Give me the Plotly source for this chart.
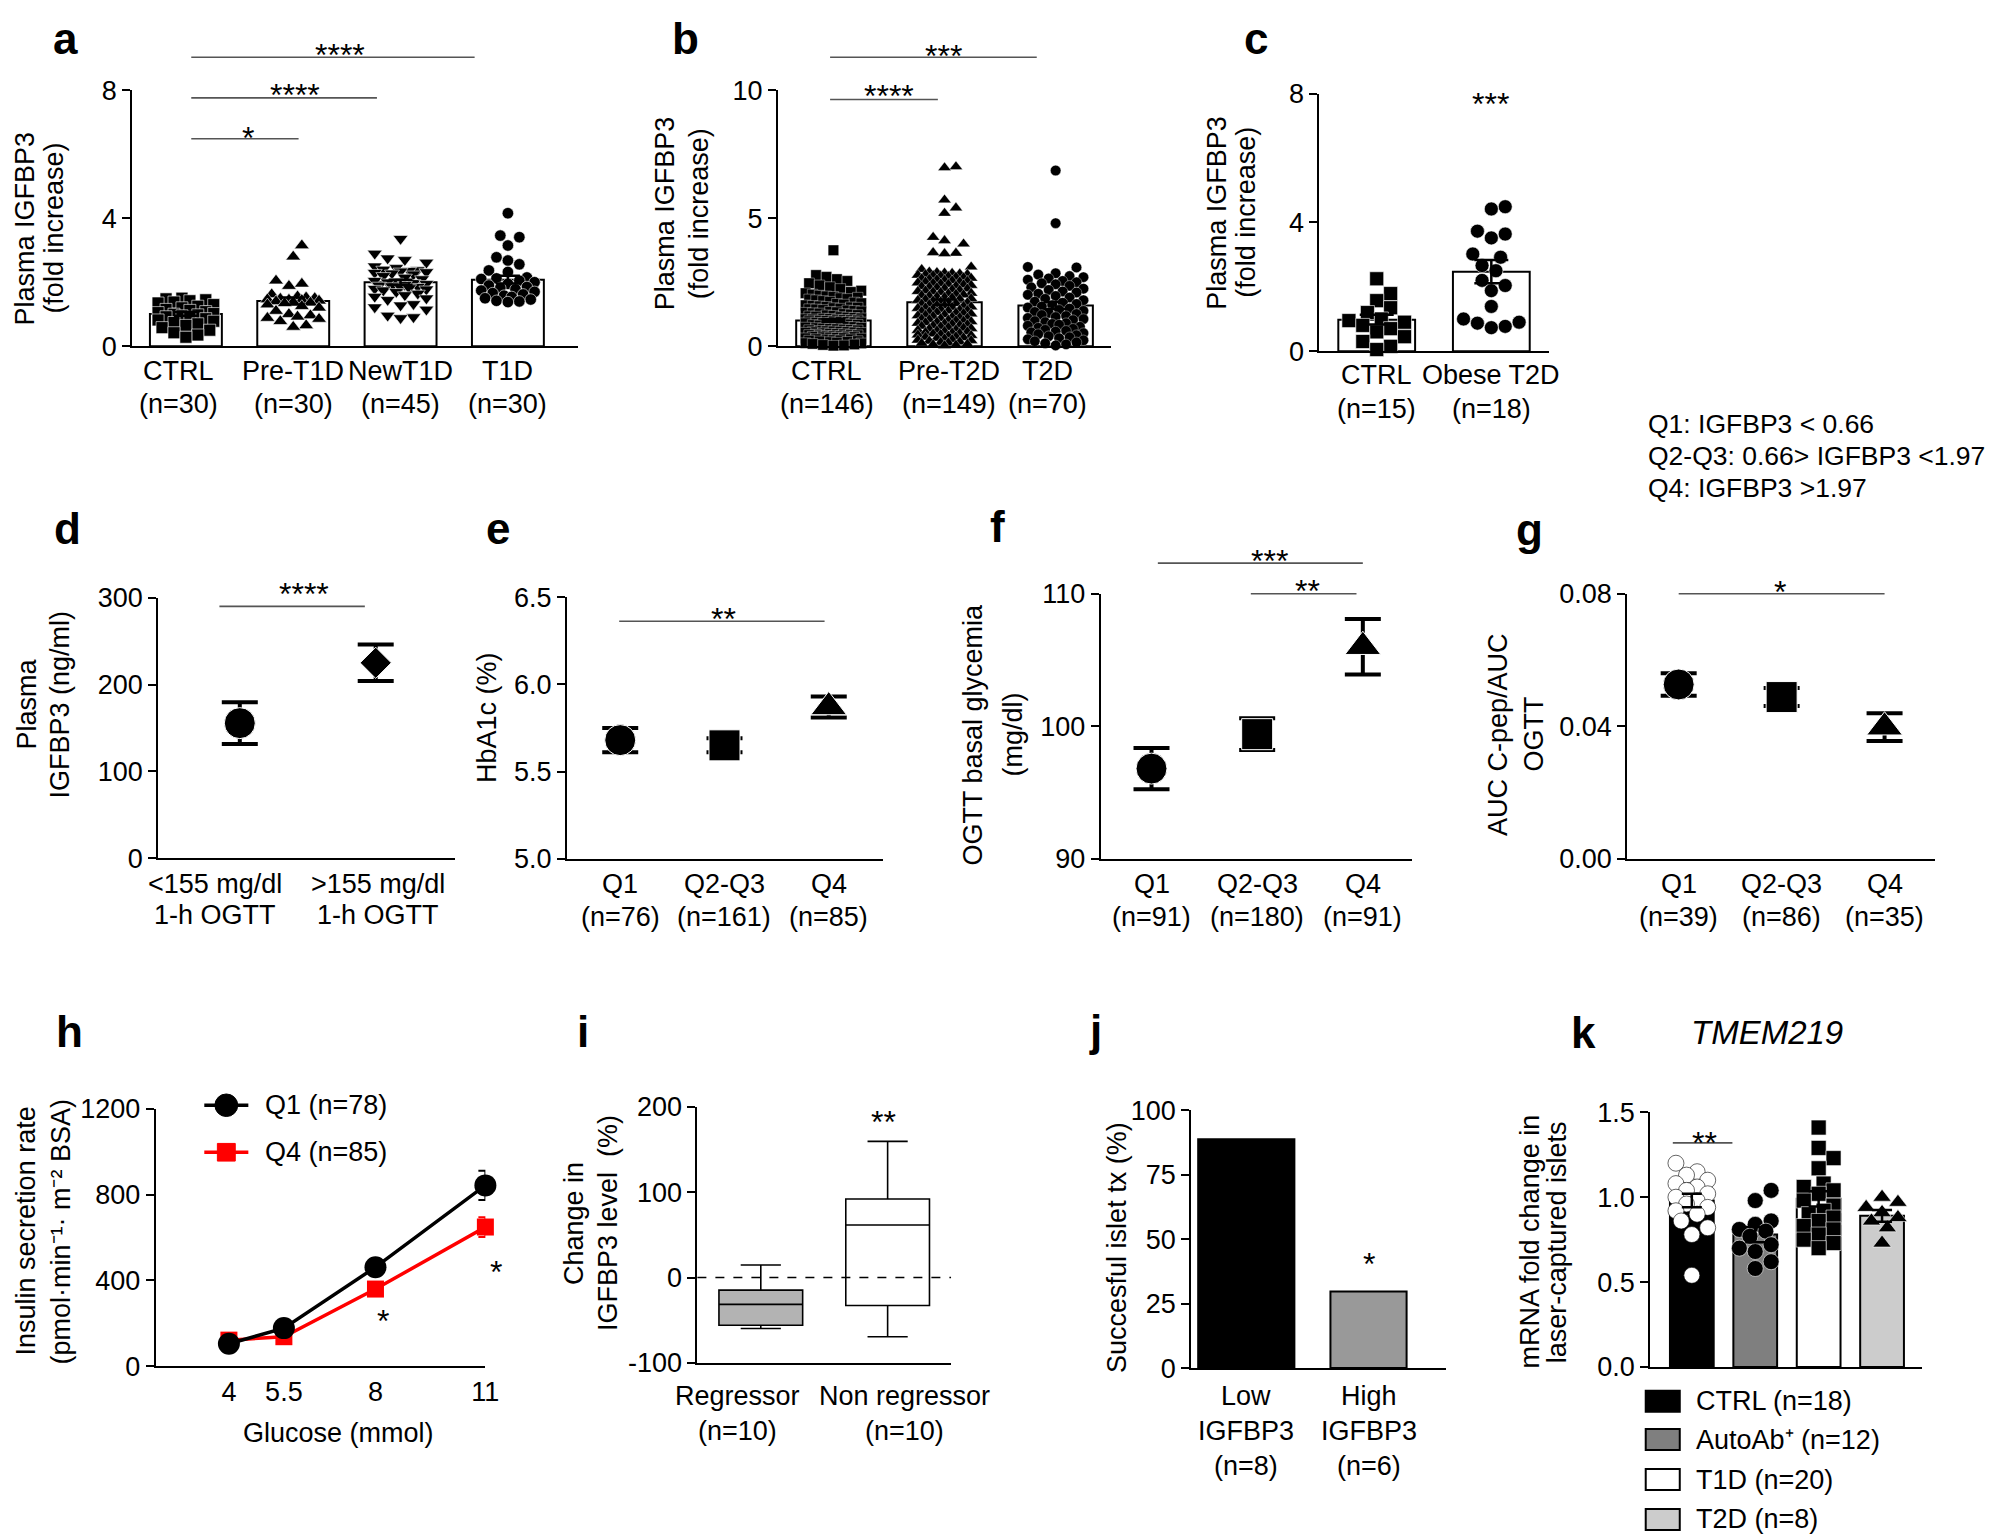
import plotly.graph_objects as go

W, H = 1996, 1536
SANS = "Liberation Sans, Arial, sans-serif"
FS = 27      # tick / category / legend text
FT = 27      # rotated axis titles
SIG = "#555555"

# ---------------- data ----------------
# a  plasma IGFBP3, T1D cohort
a_groups = ["CTRL", "Pre-T1D", "NewT1D", "T1D"]
a_n = ["(n=30)", "(n=30)", "(n=45)", "(n=30)"]
a_mean = [1.01, 1.41, 2.00, 2.08]
a_sem = [0.06, 0.11, 0.08, 0.12]
a_ctrl = [1.50, 1.48, 1.45, 1.42, 1.38, 1.35, 1.30, 1.25, 1.20, 1.15,
          1.12, 1.08, 1.05, 1.02, 1.00, 0.98, 0.95, 0.92, 0.90, 0.86,
          0.82, 0.78, 0.74, 0.70, 0.65, 0.58, 0.50, 0.42, 0.35, 0.28]
a_pre = [3.15, 2.80, 2.05, 1.95, 1.88, 1.62, 1.55, 1.52, 1.50, 1.48,
         1.46, 1.45, 1.44, 1.42, 1.40, 1.38, 1.36, 1.34, 1.30, 1.25,
         1.20, 1.10, 1.00, 0.96, 0.92, 0.88, 0.85, 0.78, 0.65, 0.60]
a_new = [3.36, 2.90, 2.75, 2.70, 2.62, 2.50, 2.45, 2.40, 2.38, 2.36,
         2.34, 2.32, 2.30, 2.28, 2.25, 2.20, 2.15, 2.10, 2.05, 2.02,
         2.00, 1.98, 1.95, 1.92, 1.90, 1.88, 1.86, 1.84, 1.82, 1.80,
         1.78, 1.75, 1.70, 1.65, 1.60, 1.55, 1.50, 1.45, 1.32, 1.28,
         1.22, 1.15, 0.96, 0.91, 0.88]
a_t1d = [4.16, 3.46, 3.41, 3.15, 2.78, 2.68, 2.56, 2.37, 2.32, 2.15,
         2.12, 2.10, 2.05, 2.00, 1.95, 1.90, 1.85, 1.82, 1.78, 1.74,
         1.70, 1.66, 1.62, 1.58, 1.54, 1.50, 1.46, 1.42, 1.40, 1.38]
a_sig_lines = [(0.05, 2.69, 9.04), (0.05, 1.78, 7.77), (0.05, 1.05, 6.49)]
a_sig_text = [(1.44, 9.32, "****"), (1.02, 8.09, "****"), (0.58, 6.73, "*")]

# b  plasma IGFBP3, T2D cohort
b_groups = ["CTRL", "Pre-T2D", "T2D"]
b_n = ["(n=146)", "(n=149)", "(n=70)"]
b_mean = [1.00, 1.72, 1.59]
b_sem = [0.05, 0.10, 0.14]
b_ctrl = [3.75, 2.78, 2.71, 2.62, 2.55,
          2.46, 2.38, 2.31, 2.24, 2.17, 2.12, 2.07, 2.02,
          1.98, 1.95, 1.93, 1.90, 1.88, 1.85, 1.83, 1.80, 1.77, 1.74,
          1.71, 1.68, 1.66, 1.63, 1.60, 1.58, 1.56, 1.54, 1.52, 1.51,
          1.49, 1.47, 1.45, 1.44, 1.42, 1.40, 1.38, 1.36, 1.35, 1.33,
          1.31, 1.29, 1.28, 1.26, 1.24, 1.22, 1.21, 1.19, 1.17, 1.16,
          1.14, 1.12, 1.11, 1.09, 1.08, 1.07, 1.06, 1.05, 1.04, 1.03,
          1.02, 1.01, 1.00,
          0.99, 0.98, 0.97, 0.96, 0.95, 0.94, 0.93, 0.92, 0.91, 0.90,
          0.89, 0.88, 0.86, 0.85, 0.84, 0.83, 0.81, 0.80, 0.79, 0.77,
          0.76, 0.75, 0.73, 0.72, 0.71, 0.69, 0.68, 0.67, 0.65, 0.64,
          0.63, 0.62, 0.60, 0.59, 0.58, 0.57, 0.56, 0.55, 0.54, 0.53,
          0.52, 0.51,
          0.49, 0.48, 0.47, 0.46, 0.45, 0.44, 0.43, 0.42, 0.41, 0.40,
          0.39, 0.38, 0.37, 0.36, 0.35, 0.34, 0.33, 0.32, 0.31, 0.30,
          0.28, 0.27, 0.26, 0.24, 0.23, 0.22, 0.20, 0.19, 0.17, 0.16,
          0.14, 0.12, 0.11, 0.09, 0.07, 0.05, 0.03, 0.02]
b_pre = [7.02, 6.98, 5.72, 5.41, 5.20, 4.26, 4.13, 4.00, 3.66, 3.64, 3.62, 3.10, 3.00,
         2.90, 2.88, 2.86, 2.85, 2.83, 2.81, 2.80, 2.78, 2.76, 2.74, 2.72,
         2.70, 2.68, 2.66, 2.64, 2.62, 2.60, 2.58, 2.56, 2.54, 2.52, 2.51,
         2.48, 2.46, 2.44, 2.42, 2.40, 2.38, 2.35, 2.33, 2.31, 2.29, 2.26,
         2.24, 2.21, 2.19, 2.16, 2.14, 2.12, 2.10, 2.07, 2.05, 2.03, 2.01,
         1.98, 1.96, 1.93, 1.91, 1.89, 1.86, 1.84, 1.82, 1.79, 1.77, 1.74,
         1.72, 1.70, 1.67, 1.65, 1.63, 1.60, 1.58, 1.56, 1.54, 1.52, 1.50,
         1.48, 1.46, 1.44, 1.42, 1.40, 1.38, 1.36, 1.34, 1.32, 1.30, 1.28,
         1.26, 1.23, 1.21, 1.19, 1.17, 1.14, 1.12, 1.10, 1.08, 1.06, 1.04,
         1.02, 1.00,
         0.98, 0.96, 0.94, 0.92, 0.90, 0.88, 0.86, 0.84, 0.82, 0.80, 0.78,
         0.76, 0.73, 0.71, 0.69, 0.67, 0.64, 0.62, 0.60, 0.58, 0.56, 0.54,
         0.52, 0.50,
         0.48, 0.46, 0.44, 0.42, 0.40, 0.37, 0.35, 0.33, 0.31, 0.29, 0.26,
         0.24, 0.22, 0.20, 0.17, 0.15, 0.13, 0.11, 0.08, 0.06, 0.04, 0.02]
b_t2d = [6.87, 4.81, 3.10, 3.08,
         2.85, 2.80, 2.74, 2.70, 2.65, 2.60, 2.55, 2.50, 2.46, 2.42,
         2.36, 2.30, 2.25, 2.20, 2.14, 2.10, 2.05, 2.01,
         1.96, 1.90, 1.85, 1.80, 1.74, 1.70, 1.65, 1.60, 1.55, 1.51,
         1.47, 1.42, 1.38, 1.34, 1.30, 1.26, 1.22, 1.18, 1.14, 1.10, 1.06, 1.02,
         0.98, 0.94, 0.90, 0.87, 0.84, 0.80, 0.76, 0.72, 0.68, 0.64, 0.60,
         0.57, 0.54, 0.51,
         0.47, 0.43, 0.39, 0.35, 0.31, 0.27, 0.23, 0.19, 0.15, 0.11, 0.07, 0.03]
b_sig_lines = [(-0.03, 1.83, 11.30), (-0.03, 0.94, 9.65)]
b_sig_text = [(0.99, 11.63, "***"), (0.50, 10.07, "****")]

# c  obese T2D
c_groups = ["CTRL", "Obese T2D"]
c_n = ["(n=15)", "(n=18)"]
c_mean = [0.98, 2.47]
c_sem = [0.15, 0.36]
c_ctrl = [2.25, 1.79, 1.57, 1.35, 1.20, 1.00, 0.95, 0.90, 0.80, 0.70,
          0.60, 0.45, 0.30, 0.15, 0.05]
c_t2d = [4.49, 4.42, 3.73, 3.64, 3.52, 3.02, 2.92, 2.66, 2.50, 2.20,
         2.04, 1.88, 1.39, 1.00, 0.90, 0.87, 0.77, 0.73]
c_sig_text = [(0.99, 7.90, "***")]
q_notes = ["Q1: IGFBP3 < 0.66", "Q2-Q3: 0.66> IGFBP3 <1.97", "Q4: IGFBP3 >1.97"]

# d
d_groups = ["<155 mg/dl", ">155 mg/dl"]
d_sub = ["1-h OGTT", "1-h OGTT"]
d_mean = [155.5, 225.0]
d_err = [24.0, 21.0]
d_sig_lines = [(-0.15, 0.92, 290)]
d_sig_text = [(0.47, 312, "****")]

# e, f, g  (quartiles)
q_groups = ["Q1", "Q2-Q3", "Q4"]
e_n = ["(n=76)", "(n=161)", "(n=85)"]
e_mean = [5.68, 5.65, 5.87]
e_err = [0.07, 0.04, 0.06]
e_sig_lines = [(-0.01, 1.96, 6.362)]
e_sig_text = [(0.99, 6.414, "**")]
f_n = ["(n=91)", "(n=180)", "(n=91)"]
f_mean = [96.8, 99.4, 106.0]
f_err = [1.55, 1.2, 2.1]
f_sig_lines = [(0.06, 2.0, 112.31), (0.94, 1.94, 110.0)]
f_sig_text = [(1.12, 112.97, "***"), (1.48, 110.7, "**")]
g_n = ["(n=39)", "(n=86)", "(n=35)"]
g_mean = [0.0526, 0.0488, 0.0397]
g_err = [0.0034, 0.0027, 0.0042]
g_sig_lines = [(0.0, 2.0, 0.080)]
g_sig_text = [(0.98, 0.0825, "*")]

# h  insulin secretion
h_glucose = [4, 5.5, 8, 11]
h_q1 = [105, 178, 462, 843]
h_q1_sem = [14, 12, 33, 68]
h_q4 = [122, 138, 360, 649]
h_q4_sem = [16, 12, 16, 46]
h_names = ["Q1 (n=78)", "Q4 (n=85)"]
h_sig_text = [(8.21, 243, "*"), (11.29, 470, "*")]

# i  box plot
i_groups = ["Regressor", "Non regressor"]
i_n = ["(n=10)", "(n=10)"]
i_min = [-59.6, -69.4]
i_q1 = [-55.9, -32.7]
i_med = [-31.4, 61.6]
i_q3 = [-14.7, 92.2]
i_max = [14.7, 159.6]
i_sig_text = [(0.97, 190, "**")]

# j  islet transplant
j_groups = ["Low", "High"]
j_sub = ["IGFBP3", "IGFBP3"]
j_n = ["(n=8)", "(n=6)"]
j_vals = [88.8, 29.7]
j_sig_text = [(1.0, 43.2, "*")]

# k  TMEM219
k_groups = ["CTRL", "AutoAb\u207a", "T1D", "T2D"]
k_n = ["(n=18)", "(n=12)", "(n=20)", "(n=8)"]
k_mean = [0.98, 0.78, 0.99, 0.89]
k_sem = [0.04, 0.045, 0.045, 0.035]
k_ctrl = [1.20, 1.15, 1.13, 1.10, 1.08, 1.06, 1.04, 1.02, 1.00, 0.98,
          0.96, 0.94, 0.92, 0.90, 0.86, 0.82, 0.78, 0.54]
k_aab = [1.04, 0.98, 0.86, 0.84, 0.81, 0.80, 0.77, 0.72, 0.70, 0.68, 0.62, 0.58]
k_t1d = [1.41, 1.29, 1.23, 1.17, 1.08, 1.06, 1.04, 1.02, 0.98, 0.95,
         0.92, 0.90, 0.88, 0.86, 0.83, 0.81, 0.78, 0.75, 0.73, 0.70]
k_t2d = [1.00, 0.97, 0.94, 0.91, 0.88, 0.86, 0.82, 0.73]
k_sig_lines = [(-0.30, 0.64, 1.32)]
k_sig_text = [(0.20, 1.36, "**")]

# y tick labels
yticks = {1: [0, 4, 8], 2: [0, 5, 10], 3: [0, 4, 8], 4: [0, 100, 200, 300],
          5: [5.0, 5.5, 6.0, 6.5], 6: [90, 100, 110], 7: [0, 0.04, 0.08],
          8: [0, 400, 800, 1200], 9: [-100, 0, 100, 200], 10: [0, 25, 50, 75, 100],
          11: [0, 0.5, 1.0, 1.5]}
yticktext = {5: ["5.0", "5.5", "6.0", "6.5"], 7: ["0.00", "0.04", "0.08"],
             11: ["0.0", "0.5", "1.0", "1.5"]}

# ---------------- layout geometry ----------------
# positions below are measured on the reference picture; the page adds a small
# margin around the figure, so map them back into figure pixels
SX, OX = 0.992, 7.9
SY, OY = 0.9806, 22.5


def gx(x):
    return (x - OX) / SX


def gy(y):
    return (y - OY) / SY


def pp(x, y):
    return gx(x) / W, 1 - gy(y) / H


frames_ref = {1: (132, 577, 90, 345.7), 2: (777, 1110, 90, 345.7), 3: (1318, 1547, 93.3, 350.7),
              4: (158, 454, 597.3, 857.7), 5: (566.4, 882, 596.7, 858.3),
              6: (1099.6, 1411, 593.3, 858.3), 7: (1625.5, 1933, 593.3, 858.3),
              8: (155.4, 484.8, 1108.4, 1366), 9: (696.6, 950, 1106.6, 1362.6),
              10: (1190, 1444, 1110, 1367.8), 11: (1648.5, 1920, 1111.9, 1366.7)}
frames = {i: (gx(L), gx(R), gy(T), gy(B)) for i, (L, R, T, B) in frames_ref.items()}
xranges = {1: [-0.5, 3.65], 2: [-0.5, 2.5], 3: [-0.5, 1.5], 4: [-0.6, 1.58],
           5: [-0.51, 2.52], 6: [-0.48, 2.47], 7: [-0.5, 2.49], 8: [2, 11],
           9: [-0.5, 1.5], 10: [-0.45, 1.63], 11: [-0.656, 3.63]}
yranges = {1: [0, 8], 2: [0, 10], 3: [0, 8], 4: [0, 300], 5: [5.0, 6.5], 6: [90, 110],
           7: [0, 0.08], 8: [0, 1200], 9: [-100, 200], 10: [0, 100], 11: [0, 1.5]}

fig = go.Figure()


def axn(i):
    return ("x", "y") if i == 1 else (f"x{i}", f"y{i}")


def scale(i):
    L, R, T, B = frames[i]
    xr, yr = xranges[i], yranges[i]
    return (R - L) / (xr[1] - xr[0]), (B - T) / (yr[1] - yr[0])


def domx(i, v):
    r = xranges[i]
    return (v - r[0]) / (r[1] - r[0])


def domy(i, v):
    r = yranges[i]
    return (v - r[0]) / (r[1] - r[0])


def swarm(vals, center, size, ppx, ppy, half):
    # simple beeswarm: place points in ascending order at the nearest free offset
    order = sorted(range(len(vals)), key=lambda n: vals[n])
    step = size / 3.0
    cands = [0.0]
    k = 1
    while k * step <= half:
        cands += [k * step, -k * step]
        k += 1
    placed, out = [], [0.0] * len(vals)
    for n in order:
        yp = vals[n] * ppy
        best_c, best_d = 0.0, -1.0
        for c in cands:
            d = min([((c - xq) ** 2 + (yp - yq) ** 2) ** 0.5 for xq, yq in placed] or [1e9])
            if d >= size:
                best_c = c
                break
            if d > best_d:
                best_c, best_d = c, d
        placed.append((best_c, yp))
        out[n] = center + best_c / ppx
    return out


def txt(x, y, text, size=FS, family=SANS, xref="paper", yref="paper",
        xanchor="center", yanchor="middle", **kw):
    fig.add_annotation(x=x, y=y, xref=xref, yref=yref, text=text, showarrow=False,
                       xanchor=xanchor, yanchor=yanchor,
                       font=dict(family=family, size=size, color="black"), **kw)


def sig(i, lines, stars):
    xa, ya = axn(i)
    for x0, x1, y in lines:
        fig.add_shape(type="line", xref=f"{xa} domain", yref=f"{ya} domain",
                      x0=domx(i, x0), x1=domx(i, x1), y0=domy(i, y), y1=domy(i, y),
                      line=dict(color=SIG, width=1.6))
    for x, y, s in stars:
        txt(domx(i, x), domy(i, y), s, size=32, xref=f"{xa} domain", yref=f"{ya} domain",
            yshift=-7)


def cat_labels(i, rows, ys, xs=None):
    xa, _ = axn(i)
    for row, yy in zip(rows, ys):
        for k, t in enumerate(row):
            txt(k if xs is None else xs[k], pp(0, yy)[1], t, xref=xa)


def column_panel(i, means, sems, pts, symbols, sizes, width, bar_colors, pt_colors,
                 pt_lines, half, cap, edge=0.6):
    xa, ya = axn(i)
    xs = list(range(len(means)))
    fig.add_trace(go.Bar(x=xs, y=means, width=width, xaxis=xa, yaxis=ya,
                         marker=dict(color=bar_colors, line=dict(color="black", width=2))))
    ppx, ppy = scale(i)
    for k, vals in enumerate(pts):
        fig.add_trace(go.Scatter(
            x=swarm(vals, k, sizes[k], ppx, ppy, half), y=vals, mode="markers",
            xaxis=xa, yaxis=ya, cliponaxis=False, hoverinfo="skip",
            marker=dict(symbol=symbols[k], size=sizes[k], color=pt_colors[k], opacity=1,
                        line=dict(color=pt_lines[k], width=edge))))
    fig.add_trace(go.Scatter(x=xs, y=means, mode="markers", xaxis=xa, yaxis=ya,
                             marker=dict(size=1, color="rgba(0,0,0,0)"),
                             error_y=dict(type="data", array=sems, color="black",
                                          thickness=2.5, width=cap)))


def mean_panel(i, means, errs, symbols, sizes):
    xa, ya = axn(i)
    fig.add_trace(go.Scatter(x=list(range(len(means))), y=means, mode="markers",
                             xaxis=xa, yaxis=ya, cliponaxis=False,
                             marker=dict(symbol=symbols, size=sizes, color="black", opacity=1),
                             error_y=dict(type="data", array=errs, color="black",
                                          thickness=4, width=18)))


# ---------------- axes ----------------
axes = {}
for i, (L, R, T, B) in frames.items():
    xa, ya = axn(i)
    xk = "xaxis" if i == 1 else f"xaxis{i}"
    yk = "yaxis" if i == 1 else f"yaxis{i}"
    axes[xk] = dict(domain=[L / W, R / W], range=xranges[i], anchor=ya, showline=True,
                    linecolor="black", linewidth=2, ticks="", showticklabels=False,
                    showgrid=False, zeroline=False, fixedrange=True)
    axes[yk] = dict(domain=[1 - B / H, 1 - T / H], range=yranges[i], anchor=xa,
                    showline=True, linecolor="black", linewidth=2, ticks="outside",
                    ticklen=8, tickwidth=2, tickcolor="black", tickvals=yticks[i],
                    ticktext=yticktext.get(i, [str(v) for v in yticks[i]]),
                    tickfont=dict(family=SANS, size=FS, color="black"),
                    showgrid=False, zeroline=False, fixedrange=True)
axes["xaxis8"].update(showticklabels=True, tickvals=h_glucose,
                      ticktext=[str(v) for v in h_glucose],
                      tickfont=dict(family=SANS, size=FS, color="black"))
fig.update_layout(**axes)

# ---------------- panels ----------------
column_panel(1, a_mean, a_sem, [a_ctrl, a_pre, a_new, a_t1d],
             ["square", "triangle-up", "triangle-down", "circle"], [12, 13, 13, 11.5],
             0.67, "white", ["black"] * 4, ["white"] * 4, 30, 12)
sig(1, a_sig_lines, a_sig_text)
cat_labels(1, [a_groups, a_n], [371, 404], [-0.07, 1, 2, 3])

column_panel(2, b_mean, b_sem, [b_ctrl, b_pre, b_t2d], ["square", "triangle-up", "circle"],
             [10.5, 11.5, 10.5], 0.67, "white", ["black"] * 3, ["white"] * 3, 30, 12,
             edge=0.35)
sig(2, b_sig_lines, b_sig_text)
cat_labels(2, [b_groups, b_n], [371, 404], [-0.06, 1.04, 1.93])

column_panel(3, c_mean, c_sem, [c_ctrl, c_t2d], ["square", "circle"], [14, 14],
             0.67, "white", ["black"] * 2, ["white"] * 2, 30, 17)
sig(3, [], c_sig_text)
cat_labels(3, [c_groups, c_n], [375, 409])
for t, yy in zip(q_notes, [424, 456, 488]):
    x, y = pp(1644, yy)
    txt(x, y, t, size=26.5, xanchor="left")

mean_panel(4, d_mean, d_err, ["circle", "diamond"], [31, 24])
sig(4, d_sig_lines, d_sig_text)
cat_labels(4, [d_groups, d_sub], [883.3, 915], [-0.18, 1.02])

mean_panel(5, e_mean, e_err, ["circle", "square", "triangle-up"], [31, 31, 31])
sig(5, e_sig_lines, e_sig_text)
cat_labels(5, [q_groups, e_n], [883.3, 916.7])

mean_panel(6, f_mean, f_err, ["circle", "square", "triangle-up"], [31, 31, 31])
sig(6, f_sig_lines, f_sig_text)
cat_labels(6, [q_groups, f_n], [883.3, 916.7])

mean_panel(7, g_mean, g_err, ["circle", "square", "triangle-up"], [31, 31, 31])
sig(7, g_sig_lines, g_sig_text)
cat_labels(7, [q_groups, g_n], [883.3, 916.7])

# h
h_colors = ["black", "#ff0000"]
for ys, es, col, sym, sz in [(h_q4, h_q4_sem, h_colors[1], "square", 17),
                             (h_q1, h_q1_sem, h_colors[0], "circle", 22)]:
    fig.add_trace(go.Scatter(x=h_glucose, y=ys, mode="lines+markers", xaxis="x8", yaxis="y8",
                             cliponaxis=False, line=dict(color=col, width=3.5),
                             marker=dict(symbol=sym, size=sz, color=col),
                             error_y=dict(type="data", array=es, color=col, thickness=2, width=7)))
sig(8, [], h_sig_text)
x, y = pp(338, 1432.2)
txt(x, y, "Glucose (mmol)")
for k, (name, yy) in enumerate(zip(h_names, [1104.9, 1151.9])):
    col = h_colors[k]
    x0, yc = pp(204, yy)
    x1, _ = pp(248, yy)
    xm, _ = pp(226, yy)
    fig.add_shape(type="line", xref="paper", yref="paper", x0=x0, x1=x1, y0=yc, y1=yc,
                  line=dict(color=col, width=3.5))
    r = 11.5 if k == 0 else 9
    fig.add_shape(type="circle" if k == 0 else "rect", xref="paper", yref="paper",
                  x0=xm - r / W, x1=xm + r / W, y0=yc - r / H, y1=yc + r / H,
                  fillcolor=col, line=dict(color=col, width=1))
    xt, _ = pp(263, yy)
    txt(xt, yc, name, xanchor="left")

# i
for k, fill in enumerate(["#b3b3b3", "white"]):
    fig.add_trace(go.Box(x=[k], q1=[i_q1[k]], median=[i_med[k]], q3=[i_q3[k]],
                         lowerfence=[i_min[k]], upperfence=[i_max[k]], width=0.66,
                         whiskerwidth=0.48, fillcolor=fill, boxpoints=False,
                         line=dict(color="black", width=1.6), xaxis="x9", yaxis="y9"))
fig.add_shape(type="line", xref="x9 domain", yref="y9 domain", x0=0, x1=1,
              y0=domy(9, 0), y1=domy(9, 0), line=dict(color="black", width=1.5, dash="dash"))
sig(9, [], i_sig_text)
cat_labels(9, [i_groups, i_n], [1395.6, 1430.5], [-0.18, 1.13])

# j
fig.add_trace(go.Bar(x=[0, 1], y=j_vals, width=[0.787, 0.623], xaxis="x10", yaxis="y10",
                     marker=dict(color=["black", "#999999"], line=dict(color="black", width=2))))
sig(10, [], j_sig_text)
cat_labels(10, [j_groups, j_sub, j_n], [1395.6, 1430.5, 1465.3])

# k
k_colors = ["black", "#7f7f7f", "white", "#cccccc"]
column_panel(11, k_mean, k_sem, [k_ctrl, k_aab, k_t1d, k_t2d],
             ["circle", "circle", "square", "triangle-up"], [16, 16, 15, 16],
             0.69, k_colors, ["white", "black", "black", "black"],
             ["black", "white", "white", "white"], 19, 10)
sig(11, k_sig_lines, k_sig_text)
x, y = pp(1765, 1031.8)
txt(x, y, "<i>TMEM219</i>", size=33)
for k, yy in enumerate([1400.9, 1439.2, 1479.2, 1519.2]):
    x0, y0 = pp(1644, yy + 10.5)
    x1, y1 = pp(1678, yy - 10.5)
    fig.add_shape(type="rect", xref="paper", yref="paper", x0=x0, x1=x1, y0=y0, y1=y1,
                  fillcolor=k_colors[k], line=dict(color="black", width=2))
    xt, yt = pp(1692, yy)
    txt(xt, yt, f"{k_groups[k]} {k_n[k]}", xanchor="left")

# ---------------- axis titles ----------------
ytitles = {1: (["Plasma IGFBP3", "(fold increase)"], [25, 54], 228),
           2: (["Plasma IGFBP3", "(fold increase)"], [665, 699], 213),
           3: (["Plasma IGFBP3", "(fold increase)"], [1216, 1245], 212),
           4: (["Plasma", "IGFBP3 (ng/ml)"], [27, 60], 704),
           5: (["HbA1c (%)"], [487], 717),
           6: (["OGTT basal glycemia", "(mg/dl)"], [972, 1012], 734),
           7: (["AUC C-pep/AUC", "OGTT"], [1497, 1532.6], 734),
           8: (["Insulin secretion rate", "(pmol·min\u207b\u00b9· m\u207b\u00b2 BSA)"],
               [26, 61], 1231),
           9: (["Change in", "IGFBP3 level\u00a0 (%)"], [574, 608], 1223),
           10: (["Succesful islet tx (%)"], [1116.4], 1247),
           11: (["mRNA fold change in", "laser-captured islets"], [1528, 1554.7], 1241.5)}
for lines, xs, yc in ytitles.values():
    for t, xx in zip(lines, xs):
        x, y = pp(xx, yc)
        txt(x, y, t, size=FT, textangle=-90)

# panel letters (left edge, baseline in figure px)
letters = [("a", 50.5, 34), ("b", 669, 34), ("c", 1240.5, 34),
           ("d", 52, 545), ("e", 483.8, 545), ("f", 987, 543),
           ("g", 1512.4, 546), ("h", 53.6, 1047.5), ("i", 574.6, 1047.5),
           ("j", 1086.2, 1047), ("k", 1567.6, 1049)]
for s, xx, base in letters:
    b = max(gy(base), 33)   # keep the text box inside the page
    txt(gx(xx) / W, 1 - (b + 10) / H, f"<b>{s}</b>", size=44, xanchor="left", yanchor="bottom")

fig.update_layout(width=W, height=H, margin=dict(l=0, r=0, t=0, b=0),
                  paper_bgcolor="white", plot_bgcolor="white", showlegend=False,
                  boxmode="overlay")
fig.write_html("out.html")
